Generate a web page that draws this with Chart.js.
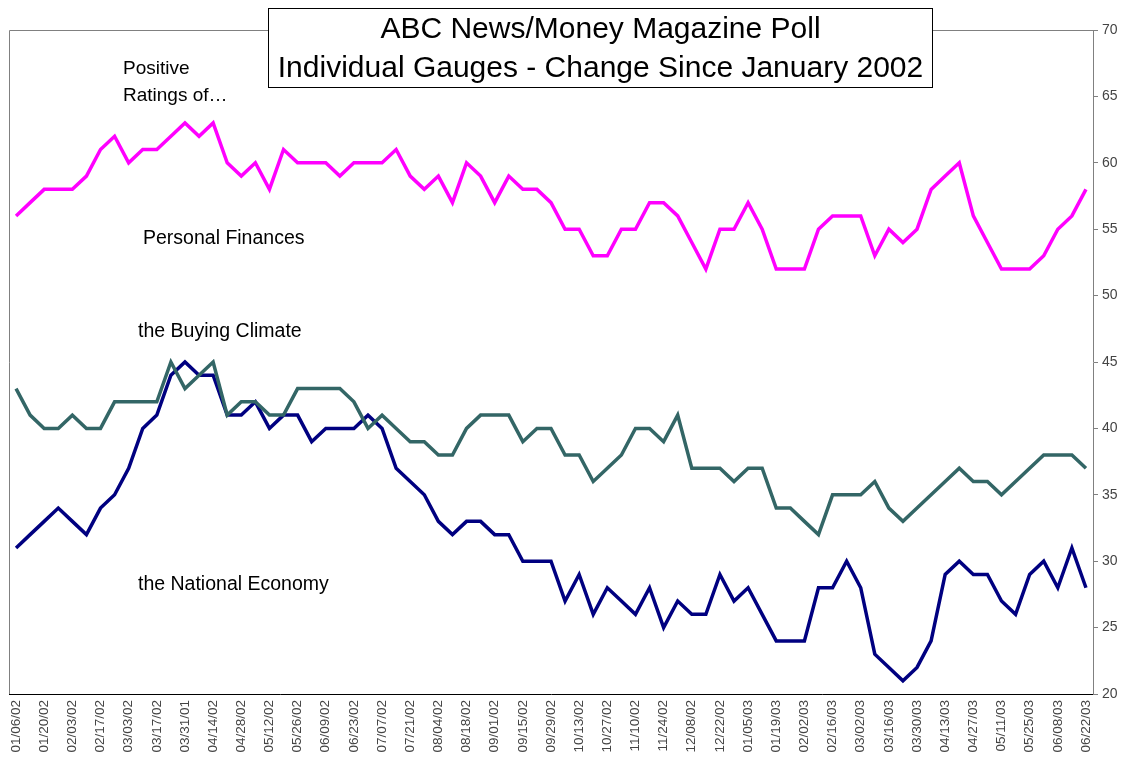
<!DOCTYPE html>
<html>
<head>
<meta charset="utf-8">
<script src="https://cdn.jsdelivr.net/npm/chart.js@4.4.1/dist/chart.umd.min.js"></script>
<style>
  html, body { margin: 0; padding: 0; background: #fff; }
  #wrap { width: 1126px; height: 763px; }
</style>
</head>
<body>
<div id="wrap"><canvas id="poll-chart" width="1126" height="763"></canvas></div>
<script>
// weekly poll dates (the 03/31 label is misprinted as 01 in the original)
const weeks = [
  '01/06/02','01/13/02','01/20/02','01/27/02','02/03/02','02/10/02','02/17/02','02/24/02',
  '03/03/02','03/10/02','03/17/02','03/24/02','03/31/01','04/07/02','04/14/02','04/21/02',
  '04/28/02','05/05/02','05/12/02','05/19/02','05/26/02','06/02/02','06/09/02','06/16/02',
  '06/23/02','06/30/02','07/07/02','07/14/02','07/21/02','07/28/02','08/04/02','08/11/02',
  '08/18/02','08/25/02','09/01/02','09/08/02','09/15/02','09/22/02','09/29/02','10/06/02',
  '10/13/02','10/20/02','10/27/02','11/03/02','11/10/02','11/17/02','11/24/02','12/01/02',
  '12/08/02','12/15/02','12/22/02','12/29/02','01/05/03','01/12/03','01/19/03','01/26/03',
  '02/02/03','02/09/03','02/16/03','02/23/03','03/02/03','03/09/03','03/16/03','03/23/03',
  '03/30/03','04/06/03','04/13/03','04/20/03','04/27/03','05/04/03','05/11/03','05/18/03',
  '05/25/03','06/01/03','06/08/03','06/15/03','06/22/03'
];

const personalFinances = [
  56,57,58,58,58,59,61,62,60,61,61,62,63,62,63,60,59,60,58,61,
  60,60,60,59,60,60,60,61,59,58,59,57,60,59,57,59,58,58,57,
  55,55,53,53,55,55,57,57,56,54,52,55,55,57,55,52,52,52,55,56,
  56,56,53,55,54,55,58,59,60,56,54,52,52,52,53,55,56,58
];

const buyingClimate = [
  43,41,40,40,41,40,40,42,42,42,42,45,43,44,45,41,42,42,41,41,
  43,43,43,43,42,40,41,40,39,39,38,38,40,41,41,41,39,40,40,
  38,38,36,37,38,40,40,39,41,37,37,37,36,37,37,34,34,33,32,
  35,35,35,36,34,33,34,35,36,37,36,36,35,36,37,38,38,38,37
];

const nationalEconomy = [
  31,32,33,34,33,32,34,35,37,40,41,44,45,44,44,41,41,42,40,41,
  41,39,40,40,40,41,40,37,36,35,33,32,33,33,32,32,30,30,30,
  27,29,26,28,27,26,28,25,27,26,26,29,27,28,26,24,24,24,28,
  28,30,28,23,22,21,22,24,29,30,29,29,27,26,29,30,28,31,28
];

const titleLines = ['ABC News/Money Magazine Poll', 'Individual Gauges - Change Since January 2002'];
const FONT = "'Liberation Sans', Arial, sans-serif";

// plot frame, title box and the text labels placed inside the plot
const decorations = {
  id: 'decorations',
  beforeDatasetsDraw(chart) {
    const { ctx, chartArea: a } = chart;
    ctx.save();
    ctx.strokeStyle = '#808080';
    ctx.lineWidth = 1;
    ctx.beginPath();
    ctx.moveTo(a.left + 0.5, a.bottom);
    ctx.lineTo(a.left + 0.5, a.top + 0.5);
    ctx.lineTo(a.right, a.top + 0.5);
    ctx.stroke();
    ctx.restore();
  },
  afterDraw(chart) {
    const { ctx, chartArea: a } = chart;
    ctx.save();
    // title box
    const bx = 268.5, by = 8.5, bw = 664, bh = 79;
    ctx.fillStyle = '#fff';
    ctx.fillRect(bx, by, bw, bh);
    ctx.strokeStyle = '#000';
    ctx.lineWidth = 1;
    ctx.strokeRect(bx, by, bw, bh);
    ctx.fillStyle = '#000';
    ctx.textAlign = 'center';
    ctx.textBaseline = 'middle';
    ctx.font = '30px ' + FONT;
    ctx.fillText(titleLines[0], bx + bw / 2, by + 21);
    ctx.fillText(titleLines[1], bx + bw / 2, by + 60);

    // series labels
    ctx.textAlign = 'left';
    ctx.font = '19px ' + FONT;
    ctx.fillText('Positive', a.left + 114, 69);
    ctx.fillText('Ratings of\u2026', a.left + 114, 96);
    ctx.font = '19.5px ' + FONT;
    ctx.fillText('Personal Finances', a.left + 134, 239);
    ctx.fillText('the Buying Climate', a.left + 129, 332);
    ctx.fillText('the National Economy', a.left + 129, 585);
    ctx.restore();
  }
};

const ctx = document.getElementById('poll-chart').getContext('2d');
const pollChart = new Chart(ctx, {
  type: 'line',
  data: {
    labels: weeks,
    datasets: [
      { label: 'the Buying Climate', data: buyingClimate, borderColor: '#336666' },
      { label: 'the National Economy', data: nationalEconomy, borderColor: '#000080' },
      { label: 'Personal Finances', data: personalFinances, borderColor: '#FF00FF' }
    ]
  },
  options: {
    responsive: false,
    animation: false,
    devicePixelRatio: 1,
    layout: { padding: { left: 9, top: 30, right: 0, bottom: 0 } },
    elements: {
      line: { borderWidth: 3.5, tension: 0, fill: false, borderJoinStyle: 'miter' },
      point: { radius: 0 }
    },
    plugins: {
      legend: { display: false },
      title: { display: false },
      tooltip: { enabled: false }
    },
    scales: {
      x: {
        type: 'category',
        offset: true,
        grid: { display: false, drawTicks: false },
        border: { display: true, color: '#000', width: 1 },
        ticks: {
          autoSkip: false,
          maxRotation: 90,
          minRotation: 90,
          padding: 6,
          color: '#444',
          font: { family: FONT, size: 13.5 },
          callback: (v, i) => (i % 2 === 0 ? weeks[i] : '')
        },
        afterFit: s => { s.height = 69; }
      },
      y: {
        position: 'right',
        min: 20,
        max: 70,
        ticks: {
          stepSize: 5,
          padding: 4,
          color: '#444',
          font: { family: FONT, size: 14 }
        },
        grid: { drawOnChartArea: false, drawTicks: true, tickLength: 5, color: '#808080' },
        border: { display: true, color: '#808080', width: 1 },
        afterFit: s => { s.width = 33; }
      }
    }
  },
  plugins: [decorations]
});
</script>
</body>
</html>
